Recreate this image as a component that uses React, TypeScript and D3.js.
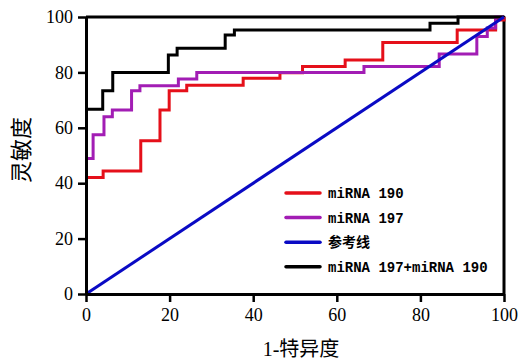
import React, { useEffect, useRef } from "react";
import * as d3 from "d3";

// ROC curves (x = 1-specificity, y = sensitivity, in %)
const xTicks = [0, 20, 40, 60, 80, 100];
const yTicks = [0, 20, 40, 60, 80, 100];

const red190X = [0, 4.1, 13.1, 17.7, 19.9, 24.1, 37.6, 46.4, 51.8, 62, 71, 88.8, 98, 100];
const red190Y = [42.1, 44.4, 55.3, 66.4, 73.4, 75.4, 77.9, 79.9, 82.1, 84.5, 90.8, 95.3, 98.9, 100];

const purple197X = [0, 1.7, 4.3, 6.3, 10.9, 12.9, 22.1, 26.5, 66.5, 84.5, 93.5, 96, 98, 100];
const purple197Y = [48.9, 57.5, 64, 66.4, 73.4, 75.2, 77.6, 80, 82.1, 86.6, 93, 96, 100, 100];

const refX = [0, 100];
const refY = [0, 100];

const comboX = [0, 4, 6.4, 19.7, 21.8, 33.3, 35.5, 82.3, 89, 100];
const comboY = [66.7, 73.4, 80, 86.3, 88.7, 93.5, 95.3, 97.7, 100, 100];

const seriesNames = ["miRNA 190", "miRNA 197", "参考线", "miRNA 197+miRNA 190"];
const seriesColors = ["#e5101a", "#a21db4", "#0a0ac4", "#000000"];

const App = () => {
  const ref = useRef<SVGSVGElement>(null);

  useEffect(() => {
    const width = 521;
    const height = 361;
    const margin = { top: 17, right: 17, bottom: 67, left: 86 };

    const svg = d3.select(ref.current);
    svg.selectAll("*").remove();
    svg.attr("width", width).attr("height", height);

    const x = d3
      .scaleLinear()
      .domain([0, 100])
      .range([margin.left, width - margin.right]);
    const y = d3
      .scaleLinear()
      .domain([0, 100])
      .range([height - margin.bottom, margin.top]);

    const serif = "'Liberation Serif', 'Noto Sans CJK SC', serif";

    // frame top + right
    svg
      .append("path")
      .attr(
        "d",
        `M${x(0)},${y(100)}H${x(100)}V${y(0)}`
      )
      .attr("fill", "none")
      .attr("stroke", "#000")
      .attr("stroke-width", 3)
      .attr("stroke-linejoin", "round");

    const line = d3
      .line<[number, number]>()
      .x((d) => x(d[0]))
      .y((d) => y(d[1]))
      .curve(d3.curveStepAfter);

    const toPts = (xs: number[], ys: number[]) =>
      xs.map((v, i) => [v, ys[i]] as [number, number]);

    const curves = [
      { pts: toPts(red190X, red190Y), color: seriesColors[0], step: true },
      { pts: toPts(purple197X, purple197Y), color: seriesColors[1], step: true },
      { pts: toPts(comboX, comboY), color: seriesColors[3], step: true },
      { pts: toPts(refX, refY), color: seriesColors[2], step: false },
    ];

    curves.forEach((c) => {
      svg
        .append("path")
        .attr(
          "d",
          c.step
            ? line(c.pts)
            : d3
                .line<[number, number]>()
                .x((d) => x(d[0]))
                .y((d) => y(d[1]))(c.pts)
        )
        .attr("fill", "none")
        .attr("stroke", c.color)
        .attr("stroke-width", 3)
        .attr("stroke-linejoin", "miter");
    });

    // axes
    const xAxis = svg
      .append("g")
      .attr("transform", `translate(0,${y(0)})`)
      .call(
        d3
          .axisBottom(x)
          .tickValues(xTicks)
          .tickSize(8)
          .tickSizeOuter(0)
          .tickPadding(6)
      );
    xAxis.select(".domain").attr("stroke-width", 3);
    xAxis.selectAll(".tick line").attr("stroke-width", 2.5);
    xAxis
      .selectAll("text")
      .attr("font-family", serif)
      .attr("font-size", 18)
      .attr("fill", "#000");

    const yAxis = svg
      .append("g")
      .attr("transform", `translate(${x(0)},0)`)
      .call(
        d3
          .axisLeft(y)
          .tickValues(yTicks)
          .tickSize(8)
          .tickSizeOuter(0)
          .tickPadding(5)
      );
    yAxis.select(".domain").attr("stroke-width", 3);
    yAxis.selectAll(".tick line").attr("stroke-width", 2.5);
    yAxis
      .selectAll("text")
      .attr("font-family", serif)
      .attr("font-size", 18)
      .attr("fill", "#000");

    // axis titles
    svg
      .append("text")
      .attr("x", 301)
      .attr("y", 356)
      .attr("text-anchor", "middle")
      .attr("font-family", serif)
      .attr("font-size", 20)
      .text("1-特异度");

    svg
      .append("text")
      .attr("transform", `translate(29,150) rotate(-90)`)
      .attr("text-anchor", "middle")
      .attr("font-family", serif)
      .attr("font-size", 22)
      .text("灵敏度");

    // legend
    const legend = svg.append("g").attr("transform", "translate(286,193)");
    seriesNames.forEach((s, i) => {
      const g = legend.append("g").attr("transform", `translate(0,${i * 24.6})`);
      g.append("line")
        .attr("x1", 0)
        .attr("x2", 34)
        .attr("stroke", seriesColors[i])
        .attr("stroke-width", 3.5)
        .attr("stroke-linecap", "round");
      g.append("text")
        .attr("x", 42)
        .attr("y", 5)
        .attr("font-family", "'Liberation Mono', 'Noto Sans CJK SC', monospace")
        .attr("font-size", 14)
        .attr("font-weight", "bold")
        .text(s);
    });
  }, []);

  return <svg ref={ref} style={{ position: "absolute", left: 0, top: 0 }}></svg>;
};

export default App;
